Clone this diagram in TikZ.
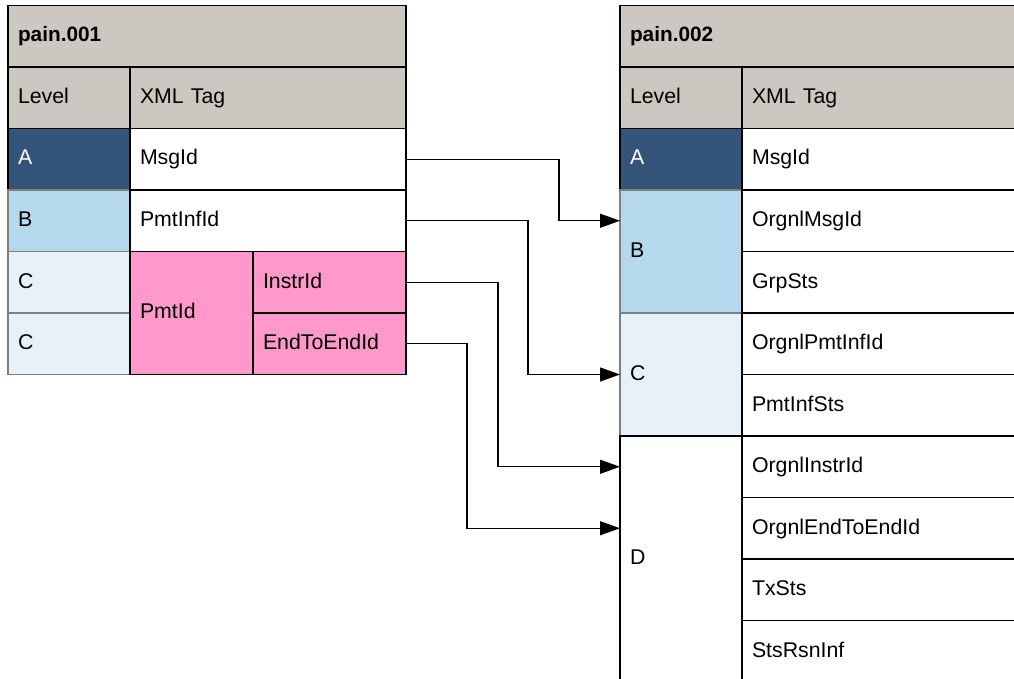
\documentclass[tikz,border=0pt]{standalone}
\usepackage{fontspec}
\setmainfont{Liberation Sans}
\usetikzlibrary{arrows.meta}
\definecolor{hdr}{HTML}{CCC7C0}
\definecolor{lvA}{HTML}{33557A}
\definecolor{lvB}{HTML}{B6D8EC}
\definecolor{lvC}{HTML}{E6F1F9}
\definecolor{pinkc}{HTML}{FF99CC}
\definecolor{lightedge}{HTML}{7F7F7F}
\begin{document}
\begin{tikzpicture}[x=1pt,y=-1pt,
  cell/.style={draw=black, line width=1.2pt, anchor=north west, inner xsep=10pt, inner ysep=0pt,
    outer sep=0pt, align=left, font=\fontsize{21.3}{25}\selectfont, text height=15.5pt, text depth=4pt,
    minimum height=61.5pt},
  hcell/.style={cell, fill=hdr},
  title/.style={hcell, font=\fontsize{20.8}{25}\selectfont\bfseries},
  tagcell/.style={cell, fill=white},
  lvA/.style={cell, fill=lvA, text=white},
  lvB/.style={cell, fill=lvB, draw=lightedge},
  lvC/.style={cell, fill=lvC, draw=lightedge},
  lvD/.style={cell, fill=white},
  pinkcell/.style={cell, fill=pinkc},
  arr/.style={draw=black, line width=1.3pt, -{Triangle[length=20pt,width=14pt]}}
]
\useasboundingbox (0,0) rectangle (1014,679);
\clip (0,0) rectangle (1014,679);

% ---------- pain.001 ----------
\node[title, text width=378pt] (h1) at (8,5.5) {pain.001};
\node[hcell, text width=102pt] (lv1) at (8,67) {Level};
\node[hcell, text width=256pt] (tg1) at (130,67) {XML Tag};
\node[lvA, text width=102pt] (a1) at (8,128.5) {A};
\node[tagcell, text width=256pt] (msg1) at (130,128.5) {MsgId};
\node[lvB, text width=102pt] (b1) at (8,190) {B};
\node[tagcell, text width=256pt] (pmtinf1) at (130,190) {PmtInfId};
\node[lvC, text width=102pt] (c1a) at (8,251.5) {C};
\node[lvC, text width=102pt] (c1b) at (8,313) {C};
\node[pinkcell, text width=103pt, minimum height=123pt] (pmtid) at (130,251.5) {PmtId};
\node[pinkcell, text width=133pt] (instr) at (253,251.5) {InstrId};
\node[pinkcell, text width=133pt] (e2e) at (253,313) {EndToEndId};

% ---------- pain.002 ----------
\node[title, text width=400pt] (h2) at (620,5.5) {pain.002};
\node[hcell, text width=102pt] (lv2) at (620,67) {Level};
\node[hcell, text width=280pt] (tg2) at (742,67) {XML Tag};
\node[lvA, text width=102pt] (a2) at (620,128.5) {A};
\node[tagcell, text width=280pt] (msg2) at (742,128.5) {MsgId};
\node[lvB, text width=102pt, minimum height=123pt] (b2) at (620,190) {B};
\node[lvC, text width=102pt, minimum height=123pt] (c2) at (620,313) {C};
\node[lvD, text width=102pt, minimum height=246pt] (d2) at (620,436) {D};
\node[tagcell, text width=280pt] (omsg) at (742,190) {OrgnlMsgId};
\node[tagcell, text width=280pt] (grp) at (742,251.5) {GrpSts};
\node[tagcell, text width=280pt] (opmt) at (742,313) {OrgnlPmtInfId};
\node[tagcell, text width=280pt] (pmtsts) at (742,374.5) {PmtInfSts};
\node[tagcell, text width=280pt] (oinstr) at (742,436) {OrgnlInstrId};
\node[tagcell, text width=280pt] (oe2e) at (742,497.5) {OrgnlEndToEndId};
\node[tagcell, text width=280pt] (txsts) at (742,559) {TxSts};
\node[tagcell, text width=280pt] (rsn) at (742,620.5) {StsRsnInf};

% ---------- connectors ----------
\draw[arr] (msg1.east) -- ++(153,0) |- (b2.west |- omsg.west);
\draw[arr] (pmtinf1.east) -- ++(122,0) |- (c2.west);
\draw[arr] (instr.east) -- ++(92,0) |- (d2.west |- oinstr.west);
\draw[arr] (e2e.east) -- ++(61,0) |- (d2.west |- oe2e.west);
\end{tikzpicture}
\end{document}
